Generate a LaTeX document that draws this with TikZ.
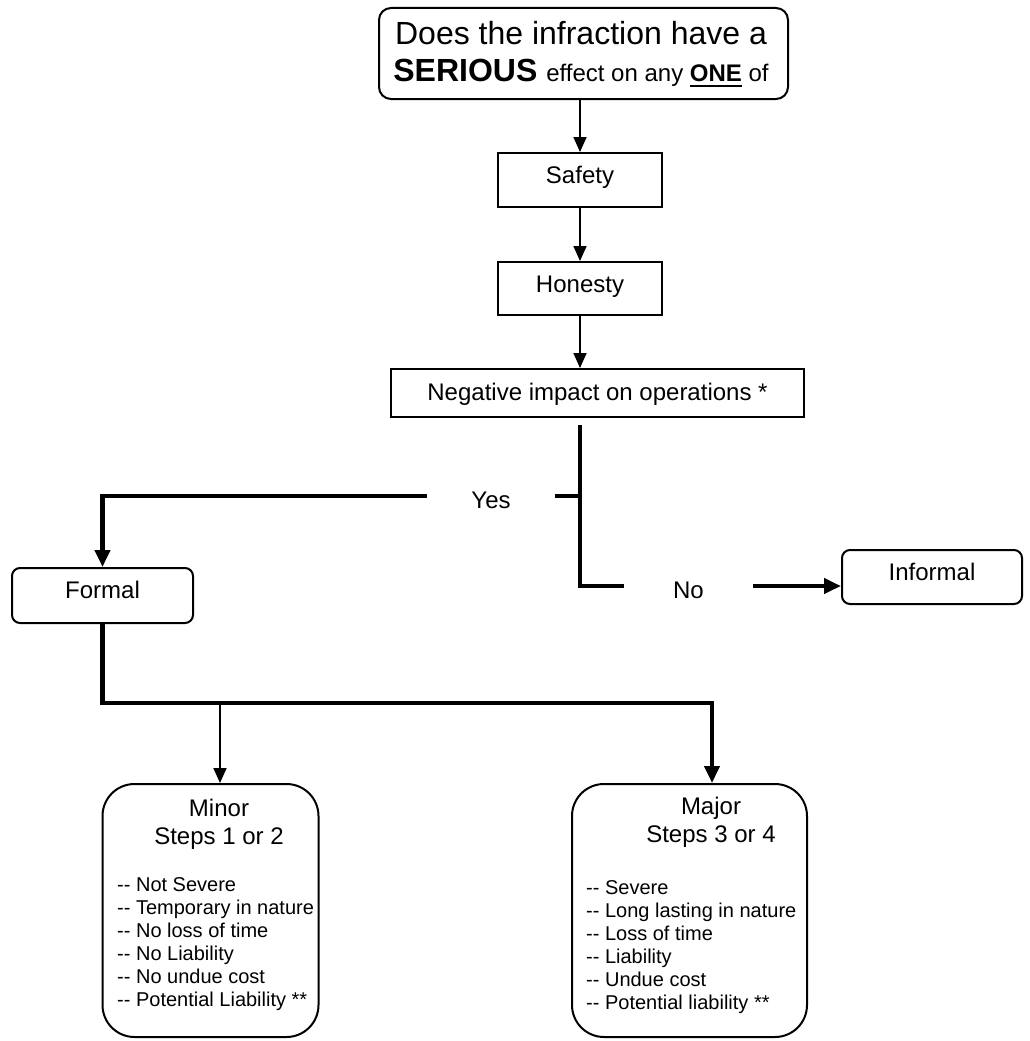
\documentclass[tikz,border=0pt]{standalone}
\usepackage{fontspec}
\setmainfont{Liberation Sans}
\usetikzlibrary{arrows.meta}
\newcommand\dsh{-\kern0pt-}
\newsavebox\ulbox
\newcommand\myul[1]{\sbox\ulbox{#1}\rlap{\rule[-5pt]{\wd\ulbox}{2pt}}\usebox\ulbox}
\begin{document}
\begin{tikzpicture}[x=1pt,y=-1pt,
  every node/.style={font=\fontsize{24}{28}\selectfont},
  box/.style={draw, line width=2pt, inner sep=0pt, text height=17pt, text depth=10pt},
  rbox/.style={box, rounded corners=8pt},
  bigbox/.style={draw, line width=2pt, inner sep=0pt, rounded corners=32pt},
  thn/.style={line width=1.7pt, -{Triangle[width=13pt,length=15pt]}},
  thk/.style={line width=4.2pt, line join=miter},
  bigtip/.style={-{Triangle[width=15pt,length=17pt]}},
  lbl/.style={inner sep=0pt, text height=25pt, text depth=0pt, minimum height=30pt},
  lst/.style={anchor=base west, inner sep=0pt, font=\fontsize{20}{23}\selectfont},
  ttl/.style={anchor=base, inner sep=0pt}
]
\useasboundingbox (0,0) rectangle (1029,1041);

% top question
\node[draw, line width=2pt, rounded corners=12pt, minimum width=409pt, minimum height=91pt, inner sep=0pt] (top) at (583.5,53.5) {};
\node[ttl, font=\fontsize{32}{37}\selectfont] (toptext) at (581,45)
  {\begin{tabular}[t]{@{}c@{}}Does the infraction have a\\ \textbf{SERIOUS} {\fontsize{24}{28}\selectfont effect on any \myul{\textbf{ONE}} of}\end{tabular}};

\node[box, minimum width=164pt, minimum height=54pt] (safety) at (580,180) {Safety};
\node[box, minimum width=164pt, minimum height=53pt] (honesty) at (580,288.5) {Honesty};
\node[box, text depth=3pt, minimum width=413pt, minimum height=48pt] (neg) at (597.5,393) {Negative impact on operations *};

\node[rbox, text depth=11pt, minimum width=181pt, minimum height=55pt] (formal) at (102.5,595.5) {Formal};
\node[rbox, text depth=11pt, minimum width=180pt, minimum height=54pt] (informal) at (932,577) {Informal};

\node[bigbox, minimum width=216pt, minimum height=253pt] (minor) at (210.5,910.5) {};
\node[bigbox, minimum width=235pt, minimum height=253pt] (major) at (689.5,910.5) {};

\node[ttl] (minort) at (219,816) {\begin{tabular}[t]{@{}c@{}}Minor\\Steps 1 or 2\end{tabular}};
\node[ttl] (majort) at (711,814) {\begin{tabular}[t]{@{}c@{}}Major\\Steps 3 or 4\end{tabular}};

\node[lst] (minorl) at (117,891.7) {\begin{tabular}[t]{@{}l@{}}
\dsh{} Not Severe\\
\dsh{} Temporary in nature\\
\dsh{} No loss of time\\
\dsh{} No Liability\\
\dsh{} No undue cost\\
\dsh{} Potential Liability **\end{tabular}};
\node[lst] (majorl) at (586,894) {\begin{tabular}[t]{@{}l@{}}
\dsh{} Severe\\
\dsh{} Long lasting in nature\\
\dsh{} Loss of time\\
\dsh{} Liability\\
\dsh{} Undue cost\\
\dsh{} Potential liability **\end{tabular}};

% connectors
\draw[thn] (top.south -| safety.north) -- (safety.north);
\draw[thn] (safety) -- (honesty);
\draw[thn] (honesty.south) -- (honesty.south |- neg.north);

\coordinate (split) at ([yshift=-7pt]neg.south -| honesty.south);
\node[lbl, minimum width=128pt] (yes) at (491,496) {Yes};
\node[lbl, minimum width=129pt] (no) at (688.5,586) {No};
\draw[thk] (split) |- (yes.east);
\draw[thk, bigtip] (yes.west) -| (formal.north);
\draw[thk] (split) |- (no.west);
\draw[thk, bigtip] (no.east) -- (no.east -| informal.west);

\coordinate (busy) at (0,703);
\coordinate (bus) at (formal.south |- busy);
\draw[thk, bigtip] (formal.south) -- (bus) -| ([xshift=22.5pt]major.north);
\draw[thn] ([xshift=9.5pt]minor.north |- bus) -- ([xshift=9.5pt]minor.north);
\end{tikzpicture}
\end{document}
